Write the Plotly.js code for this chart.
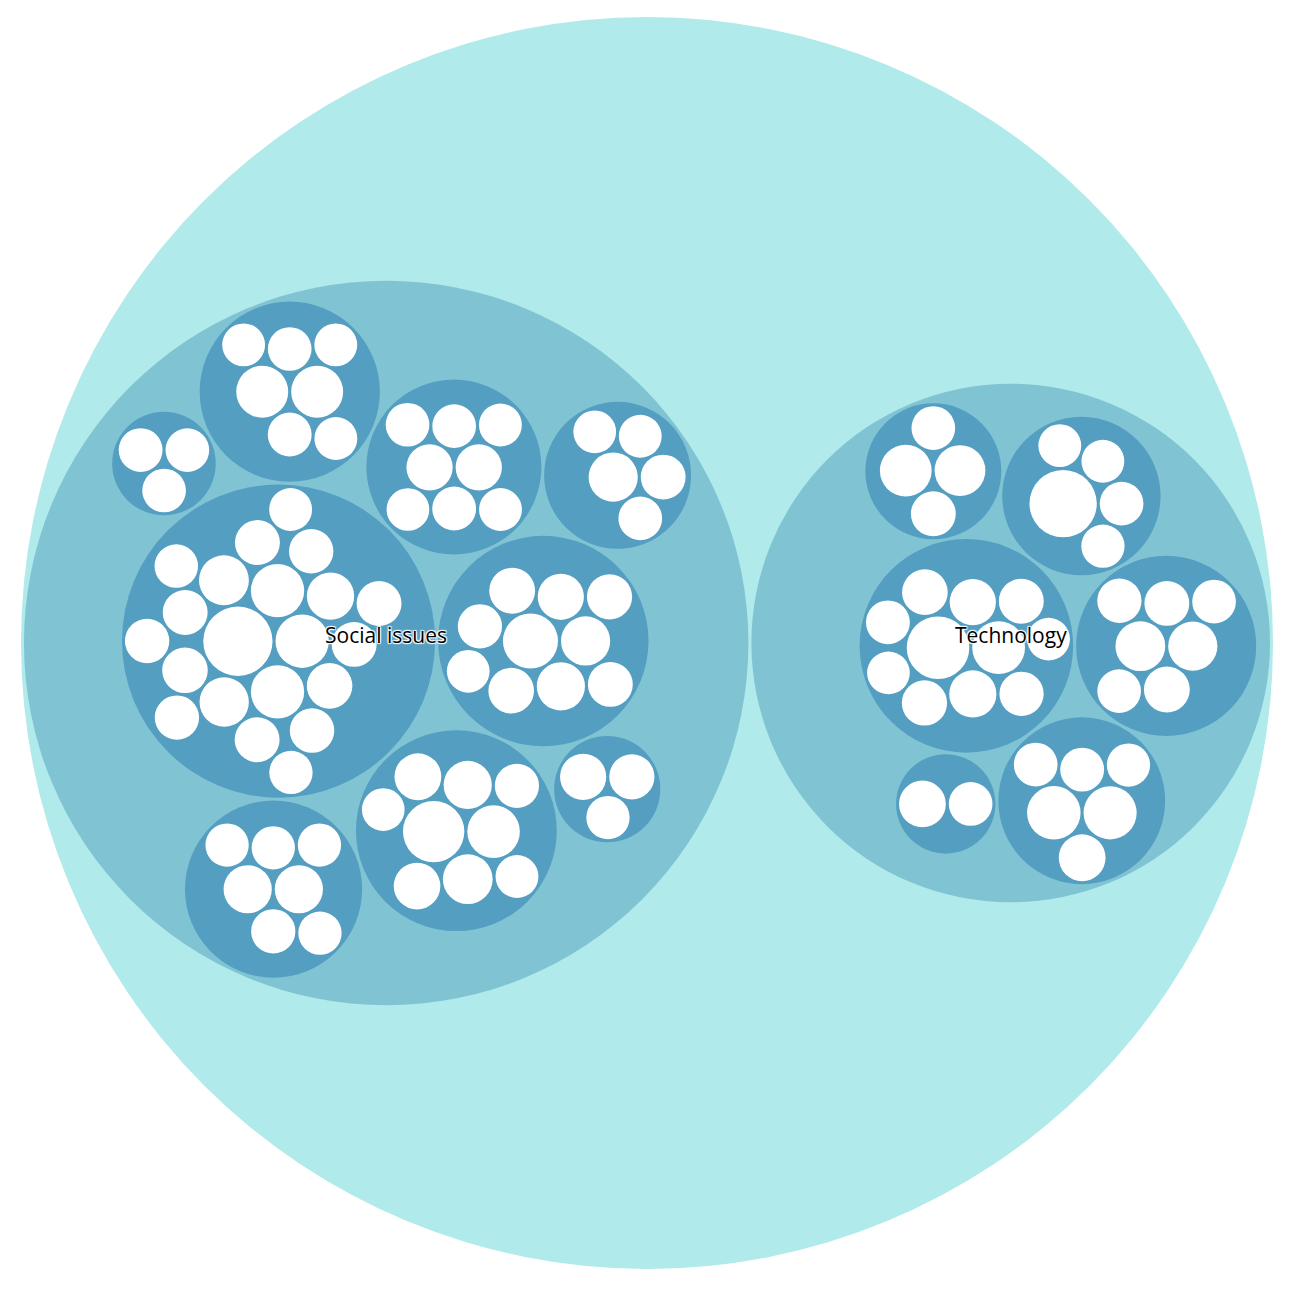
<!DOCTYPE html>
<html>
<head>
<meta charset="utf-8">
<script src="https://cdn.plot.ly/plotly-3.0.1.min.js"></script>
<style>
html,body{margin:0;padding:0;background:#ffffff;}
#chart{width:1310px;height:1306px;}
</style>
</head>
<body>
<div id="chart"></div>
<script>
// ---------------- DATA ----------------
const categories = ["Social issues", "Technology"];

// leaf values of each sub-group (area-proportional)
const socialIssuesGroups = [
  [1240, 734, 734, 734, 644, 628, 579, 536, 536, 521, 521, 521, 521, 521, 512, 508, 508, 508, 489, 485, 476],
  [697, 697, 497, 493, 475, 475, 475],
  [497, 493, 493],
  [552, 552, 497, 493, 493, 475, 475, 471],
  [625, 520, 493, 475, 471],
  [784, 625, 600, 552, 543, 538, 529, 520, 506, 471],
  [973, 713, 640, 600, 566, 562, 506, 475, 471],
  [552, 529, 484],
  [600, 600, 506, 484, 484, 484, 484]
];
const technologyGroups = [
  [692, 666, 520, 493],
  [1170, 493, 484, 475, 475],
  [1011, 718, 576, 552, 538, 529, 520, 506, 497, 471, 471],
  [640, 625, 543, 520, 506, 493, 493],
  [566, 493],
  [740, 729, 566, 497, 493, 484]
];
const groupsByCategory = [socialIssuesGroups, technologyGroups];

// ---------------- STYLE / LAYOUT ----------------
const depthColors = ["#b0eaea", "#80c4d4", "#549ec2"];
const leafColor = "#ffffff";
const PAD = 3;
const PACK_CX = 647, PACK_CY = 643, PACK_R = 626;
const W = 1310, H = 1306;

// ---------------- HIERARCHY ----------------
function buildTree() {
  const root = { name: "root", children: [] };
  categories.forEach((c, ci) => {
    const cat = { name: c, children: [] };
    groupsByCategory[ci].forEach((g, gi) => {
      cat.children.push({ name: c + " " + (gi + 1),
        children: g.map((v, li) => ({ name: c + " " + (gi + 1) + "." + (li + 1), value: v })) });
    });
    root.children.push(cat);
  });
  (function sum(n) {
    if (n.children) { n.value = 0; n.children.forEach(ch => { sum(ch); n.value += ch.value; }); }
  })(root);
  (function sortTree(n) {
    if (n.children) { n.children.sort((a, b) => b.value - a.value); n.children.forEach(sortTree); }
  })(root);
  return root;
}

// ---------------- PACK (d3-hierarchy circle packing) ----------------
function enclosesNot(a, b) { const dr = a.r - b.r, dx = b.x - a.x, dy = b.y - a.y; return dr < 0 || dr * dr < dx * dx + dy * dy; }
function enclosesWeak(a, b) { const dr = a.r - b.r + Math.max(a.r, b.r, 1) * 1e-9, dx = b.x - a.x, dy = b.y - a.y; return dr > 0 && dr * dr > dx * dx + dy * dy; }
function enclosesWeakAll(a, B) { for (let i = 0; i < B.length; ++i) if (!enclosesWeak(a, B[i])) return false; return true; }
function encloseBasis1(a) { return { x: a.x, y: a.y, r: a.r }; }
function encloseBasis2(a, b) {
  const x1 = a.x, y1 = a.y, r1 = a.r, x2 = b.x, y2 = b.y, r2 = b.r;
  const x21 = x2 - x1, y21 = y2 - y1, r21 = r2 - r1, l = Math.sqrt(x21 * x21 + y21 * y21);
  return { x: (x1 + x2 + x21 / l * r21) / 2, y: (y1 + y2 + y21 / l * r21) / 2, r: (l + r1 + r2) / 2 };
}
function encloseBasis3(a, b, c) {
  const x1 = a.x, y1 = a.y, r1 = a.r, x2 = b.x, y2 = b.y, r2 = b.r, x3 = c.x, y3 = c.y, r3 = c.r;
  const a2 = x1 - x2, a3 = x1 - x3, b2 = y1 - y2, b3 = y1 - y3, c2 = r2 - r1, c3 = r3 - r1;
  const d1 = x1 * x1 + y1 * y1 - r1 * r1, d2 = d1 - x2 * x2 - y2 * y2 + r2 * r2, d3 = d1 - x3 * x3 - y3 * y3 + r3 * r3;
  const ab = a3 * b2 - a2 * b3;
  const xa = (b2 * d3 - b3 * d2) / (ab * 2) - x1, xb = (b3 * c2 - b2 * c3) / ab;
  const ya = (a3 * d2 - a2 * d3) / (ab * 2) - y1, yb = (a2 * c3 - a3 * c2) / ab;
  const A = xb * xb + yb * yb - 1, B = 2 * (r1 + xa * xb + ya * yb), C = xa * xa + ya * ya - r1 * r1;
  const r = -(Math.abs(A) > 1e-6 ? (B + Math.sqrt(B * B - 4 * A * C)) / (2 * A) : C / B);
  return { x: x1 + xa + xb * r, y: y1 + ya + yb * r, r: r };
}
function encloseBasis(B) { return B.length === 1 ? encloseBasis1(B[0]) : B.length === 2 ? encloseBasis2(B[0], B[1]) : encloseBasis3(B[0], B[1], B[2]); }
function extendBasis(B, p) {
  if (enclosesWeakAll(p, B)) return [p];
  for (let i = 0; i < B.length; ++i) {
    if (enclosesNot(p, B[i]) && enclosesWeakAll(encloseBasis2(B[i], p), B)) return [B[i], p];
  }
  for (let i = 0; i < B.length - 1; ++i) {
    for (let j = i + 1; j < B.length; ++j) {
      if (enclosesNot(encloseBasis2(B[i], B[j]), p) && enclosesNot(encloseBasis2(B[i], p), B[j]) &&
          enclosesNot(encloseBasis2(B[j], p), B[i]) && enclosesWeakAll(encloseBasis3(B[i], B[j], p), B)) return [B[i], B[j], p];
    }
  }
  return [p];
}
function packEnclose(circles) {
  let i = 0, n = circles.length, B = [], e = null;
  while (i < n) {
    const p = circles[i];
    if (e && enclosesWeak(e, p)) ++i;
    else { B = extendBasis(B, p); e = encloseBasis(B); i = 0; }
  }
  return e;
}
// classic d3-hierarchy placement (exact for equal radii)
function place(a, b, c) {
  const ax = a.x, ay = a.y, dx = b.x - ax, dy = b.y - ay, dc = dx * dx + dy * dy;
  let da = b.r + c.r, db = a.r + c.r;
  if (dc) {
    db *= db; da *= da;
    const x = 0.5 + (db - da) / (2 * dc);
    const dbm = db - dc;
    const y = Math.sqrt(Math.max(0, 2 * da * (db + dc) - dbm * dbm - da * da)) / (2 * dc);
    c.x = ax + x * dx + y * dy;
    c.y = ay + x * dy - y * dx;
  } else {
    c.x = ax + db; c.y = ay;
  }
}
function intersects(a, b) { const dx = b.x - a.x, dy = b.y - a.y, dr = a.r + b.r; return dr * dr - 1e-6 > dx * dx + dy * dy; }
function score(node) {
  const a = node._, b = node.next._, ab = a.r + b.r;
  const dx = (a.x * b.r + b.x * a.r) / ab, dy = (a.y * b.r + b.y * a.r) / ab;
  return dx * dx + dy * dy;
}
function CNode(circle) { this._ = circle; this.next = null; this.previous = null; }
function packSiblings(circles) {
  const n = circles.length;
  if (!n) return 0;
  let a, b, c, aa, ca, i, j, k, sj, sk;
  a = circles[0]; a.x = 0; a.y = 0;
  if (!(n > 1)) return a.r;
  b = circles[1]; a.x = -b.r; b.x = a.r; b.y = 0;
  if (!(n > 2)) return a.r + b.r;
  place(b, a, c = circles[2]);
  a = new CNode(a); b = new CNode(b); c = new CNode(c);
  a.next = c.previous = b; b.next = a.previous = c; c.next = b.previous = a;
  pack: for (i = 3; i < n; ++i) {
    place(a._, b._, c = circles[i]); c = new CNode(c);
    j = b.next; k = a.previous; sj = b._.r; sk = a._.r;
    do {
      if (sj <= sk) {
        if (intersects(j._, c._)) { b = j; a.next = b; b.previous = a; --i; continue pack; }
        sj += j._.r; j = j.next;
      } else {
        if (intersects(k._, c._)) { a = k; a.next = b; b.previous = a; --i; continue pack; }
        sk += k._.r; k = k.previous;
      }
    } while (j !== k.next);
    c.previous = a; c.next = b; a.next = b.previous = b = c;
    aa = score(a);
    while ((c = c.next) !== b) { if ((ca = score(c)) < aa) { a = c; aa = ca; } }
    b = a.next;
  }
  const chain = [b._]; c = b; while ((c = c.next) !== b) chain.push(c._);
  const e = packEnclose(chain);
  for (i = 0; i < n; ++i) { circles[i].x -= e.x; circles[i].y -= e.y; }
  return e.r;
}
function packTree(node, pad) {
  if (!node.children) { node.r = Math.sqrt(node.value); return; }
  node.children.forEach(ch => packTree(ch, pad));
  const r = pad / 2;
  node.children.forEach(ch => ch.r += r);
  const e = packSiblings(node.children);
  node.children.forEach(ch => ch.r -= r);
  node.r = e + r;
}
function translateTree(node, k) {
  if (node.children) node.children.forEach(ch => {
    ch.r *= k; ch.x = node.x + k * ch.x; ch.y = node.y + k * ch.y;
    ch.depth = node.depth + 1;
    translateTree(ch, k);
  });
}

const root = buildTree();
packTree(root, PAD);
const kScale = PACK_R / root.r;
root.r = PACK_R; root.x = PACK_CX; root.y = PACK_CY; root.depth = 0;
translateTree(root, kScale);

// ---------------- DRAW ----------------
const shapes = [];
const annotations = [];
(function walk(n) {
  shapes.push({
    type: "circle", xref: "x", yref: "y",
    x0: n.x - n.r, x1: n.x + n.r, y0: n.y - n.r, y1: n.y + n.r,
    fillcolor: n.children ? depthColors[Math.min(n.depth, depthColors.length - 1)] : leafColor,
    line: { width: 0 }, layer: "above"
  });
  if (n.children) n.children.forEach(walk);
})(root);
root.children.forEach(cat => {
  annotations.push({
    x: cat.x, y: cat.y, xref: "x", yref: "y", text: cat.name, showarrow: false,
    xanchor: "center", yanchor: "middle", yshift: 8,
    font: { family: "Open Sans, sans-serif", size: 21, color: "#000000",
            shadow: "1px 1px 1px #fff, -1px -1px 1px #fff, 1px -1px 1px #fff, -1px 1px 1px #fff" }
  });
});

const layout = {
  width: W, height: H,
  margin: { l: 0, r: 0, t: 0, b: 0, pad: 0 },
  paper_bgcolor: "#ffffff", plot_bgcolor: "#ffffff",
  showlegend: false,
  xaxis: { range: [0, W], visible: false, fixedrange: true },
  yaxis: { range: [H, 0], visible: false, fixedrange: true },
  shapes: shapes,
  annotations: annotations
};
Plotly.newPlot("chart", [{ x: [], y: [], type: "scatter", mode: "markers", hoverinfo: "skip" }], layout, { displayModeBar: false, staticPlot: true });
</script>
</body>
</html>
